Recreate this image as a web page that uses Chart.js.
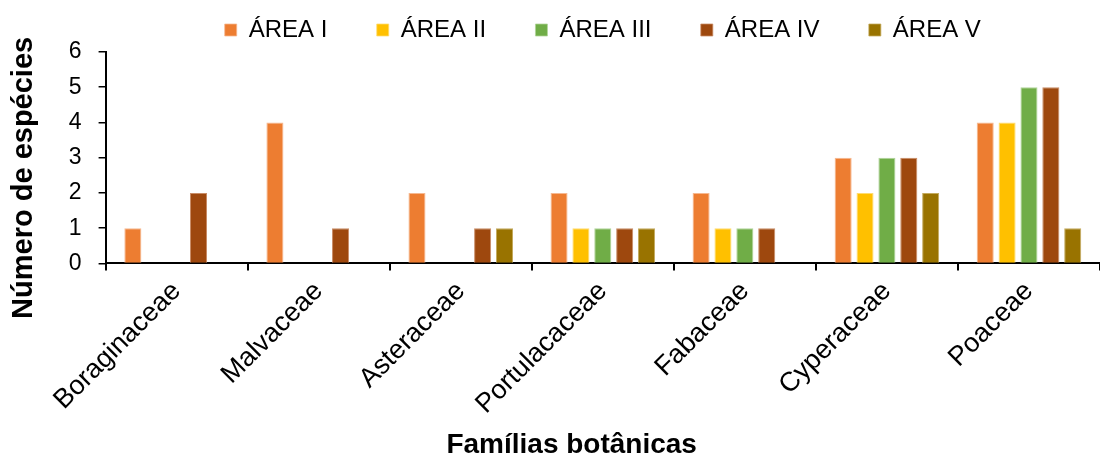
<!DOCTYPE html>
<html>
<head>
<meta charset="utf-8">
<script src="https://cdn.jsdelivr.net/npm/chart.js@4/dist/chart.umd.min.js"></script>
<style>
  html, body { margin: 0; padding: 0; background: #fff; }
  #wrap { width: 1100px; height: 462px; }
</style>
</head>
<body>
<div id="wrap"><canvas id="chart"></canvas></div>
<script>
// families on the x axis
const familias = ['Boraginaceae', 'Malvaceae', 'Asteraceae', 'Portulacaceae', 'Fabaceae', 'Cyperaceae', 'Poaceae'];

// number of species per area (0 = no bar)
const areaI   = [1, 4, 2, 2, 2, 3, 4];
const areaII  = [0, 0, 0, 1, 1, 2, 4];
const areaIII = [0, 0, 0, 1, 1, 3, 5];
const areaIV  = [2, 1, 1, 1, 1, 3, 5];
const areaV   = [0, 0, 1, 1, 0, 2, 1];

const areaNames = ['ÁREA I', 'ÁREA II', 'ÁREA III', 'ÁREA IV', 'ÁREA V'];
const areaColors = ['#ED7D31', '#FFC000', '#70AD47', '#9E480E', '#997300'];
const areaEdges = ['#F6B890', '#FFDC70', '#B0D49A', '#C98C66', '#C4AB5E'];

const yTicks = [0, 1, 2, 3, 4, 5, 6];

const series = [areaI, areaII, areaIII, areaIV, areaV];

const nbsp = (n) => '\u00A0'.repeat(n);

Chart.defaults.font.family = "'Liberation Sans', Arial, sans-serif";
Chart.defaults.color = '#000';

const ctx = document.getElementById('chart').getContext('2d');
new Chart(ctx, {
  type: 'bar',
  data: {
    labels: familias,
    datasets: series.map((vals, i) => ({
      label: areaNames[i],
      data: vals,
      backgroundColor: areaColors[i],
      borderColor: areaEdges[i],
      borderWidth: { top: 1, left: 1, right: 1, bottom: 0 },
      categoryPercentage: 0.77,
      barPercentage: 0.78
    }))
  },
  options: {
    responsive: true,
    maintainAspectRatio: false,
    animation: false,
    layout: { padding: { left: 0, right: 0, top: 2, bottom: 0 } },
    plugins: {
      tooltip: { enabled: false },
      legend: {
        position: 'top',
        fullSize: false,
        labels: {
          boxWidth: 12,
          boxHeight: 12,
          padding: 16,
          font: { size: 24 },
          color: '#000',
          generateLabels: (chart) => {
            const items = Chart.defaults.plugins.legend.labels.generateLabels(chart);
            // a bit of extra room after each entry, like the original legend
            items.forEach((it, i) => {
              if (i < items.length - 1) it.text = it.text + nbsp(5);
            });
            return items;
          }
        }
      }
    },
    scales: {
      x: {
        border: { display: true, color: '#000', width: 2 },
        grid: {
          display: true,
          offset: true,
          drawOnChartArea: false,
          drawTicks: true,
          tickLength: 7,
          color: '#000',
          lineWidth: 2
        },
        ticks: {
          minRotation: 45,
          maxRotation: 45,
          padding: 5,
          font: { size: 27 },
          color: '#000'
        },
        title: {
          display: true,
          text: 'Famílias botânicas' + nbsp(8),
          font: { size: 28, weight: 'bold' },
          color: '#000',
          padding: { top: 3, bottom: 0 }
        }
      },
      y: {
        min: 0,
        max: 6,
        border: { display: true, color: '#000', width: 2 },
        grid: {
          display: true,
          drawOnChartArea: false,
          drawTicks: true,
          tickLength: 7,
          color: '#000',
          lineWidth: 1.5
        },
        afterBuildTicks: (axis) => {
          axis.ticks = yTicks.map(v => ({ value: v }));
        },
        ticks: {
          padding: 17,
          font: { size: 23 },
          color: '#000'
        },
        title: {
          display: true,
          text: 'Número de espécies' + nbsp(5),
          font: { size: 29, weight: 'bold' },
          color: '#000',
          padding: { top: 7, bottom: 10 }
        }
      }
    }
  }
});
</script>
</body>
</html>
